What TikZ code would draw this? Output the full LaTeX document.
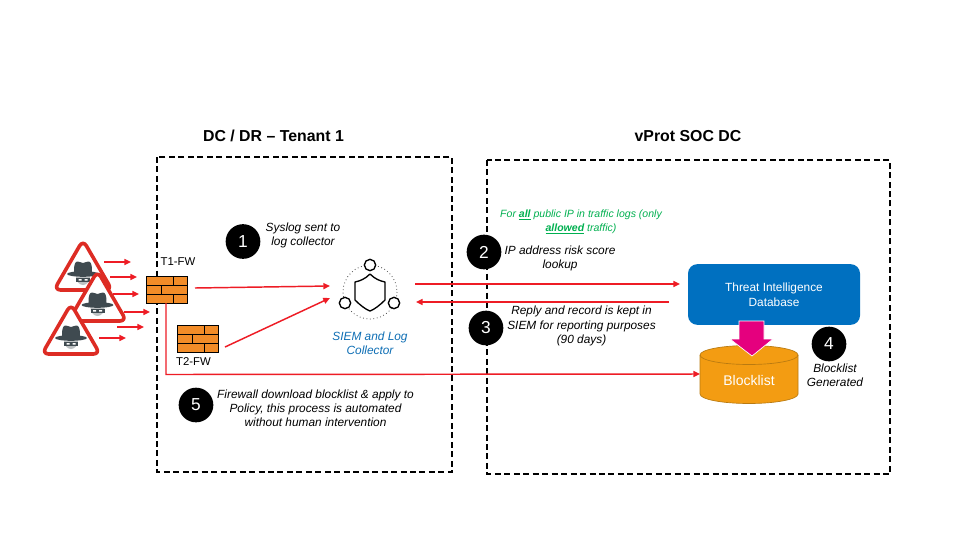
\documentclass[tikz,border=0pt]{standalone}
\usepackage{fontspec}
\setmainfont{Liberation Sans}
\usetikzlibrary{arrows.meta}
\definecolor{arrred}{HTML}{EE1C25}
\definecolor{fwor}{HTML}{F28C28}
\definecolor{dbblue}{HTML}{0070C0}
\definecolor{cylor}{HTML}{F39C12}
\definecolor{cyledge}{HTML}{B97A10}
\definecolor{hatgr}{HTML}{3F4A50}
\definecolor{trired}{HTML}{DD2C24}
\definecolor{siemblue}{HTML}{0F6FB5}
\definecolor{allowgreen}{HTML}{00B050}
\definecolor{pinkarr}{HTML}{E5007E}
\tikzset{
 x=0.75pt,y=-0.75pt,
 every node/.style={inner sep=0pt,outer sep=0pt},
 redline/.style={draw=arrred,line width=1.1pt},
 redarrow/.style={redline,-{Triangle[length=5pt,width=4.5pt]}},
 dashbox/.style={draw=black,line width=0.8pt,dash pattern=on 4.5pt off 2.6pt},
 numdot/.style={circle,fill=black,minimum size=26pt,text=white,font=\fontsize{13}{13}\selectfont},
 note/.style={align=center,font=\fontsize{8.9}{10.6}\selectfont\itshape},
 title/.style={font=\fontsize{11.9}{13}\selectfont\bfseries},
 fwlabel/.style={font=\fontsize{8.5}{9}\selectfont},
 hacker/.pic={
  \path[fill=white,draw=trired,line width=2.7pt,rounded corners=5pt,line join=round] (0,-28)--(29,22)--(-29,22)--cycle;
  \fill[hatgr] (-9,6) .. controls (-9,0) and (-9,-4) .. (-7,-6) .. controls (-5,-7.5) and (-2,-5) .. (0,-5) .. controls (2,-5) and (5,-7.5) .. (7,-6) .. controls (9,-4) and (9,0) .. (9,6) -- cycle;
  \fill[hatgr] (0,6) ellipse[x radius=16,y radius=2.8];
  \fill[hatgr!35] (-7,9) .. controls (-7,14) and (-3,17) .. (0,17) .. controls (3,17) and (7,14) .. (7,9) -- cycle;
  \fill[hatgr] (-7,10) rectangle (7,13.5);
  \fill[white] (-4.5,11.2) rectangle (-1.5,12.6) (1.5,11.2) rectangle (4.5,12.6);
 },
 firewall/.pic={
  \fill[fwor] (0,0) rectangle (41,27.5);
  \draw[black,line width=0.75pt] (0,0) rectangle (41,27.5);
  \draw[black,line width=0.6pt] (0,9.2)--(41,9.2) (0,18.4)--(41,18.4)
   (27,0)--(27,9.2) (15,9.2)--(15,18.4) (27,18.4)--(27,27.5);
 }
}
\begin{document}
\begin{tikzpicture}
\useasboundingbox (0,0) rectangle (960,540);
\fill[white] (0,0) rectangle (960,540);
% tenant boxes
\draw[dashbox] (157,157) rectangle (452,472);
\draw[dashbox] (487,160) rectangle (890,474);
\node[title] (t1) at (273.5,136) {DC / DR – Tenant 1};
\node[title] (t2) at (688,136) {vProt SOC DC};
% hackers
\pic at (83,268) {hacker};
\pic at (97.5,299) {hacker};
\pic at (71,332) {hacker};
% attack arrows
\coordinate (a1s) at (104,262); \coordinate (a1e) at (131,262);
\coordinate (a2s) at (110,277); \coordinate (a2e) at (137,277);
\coordinate (a3s) at (113,294); \coordinate (a3e) at (139,294);
\coordinate (a4s) at (124,312); \coordinate (a4e) at (150,312);
\coordinate (a5s) at (117,327); \coordinate (a5e) at (144,327);
\coordinate (a6s) at (99,338); \coordinate (a6e) at (126,338);
\foreach \n in {1,...,6} \draw[redarrow] (a\n s) -- (a\n e);
% firewalls
\pic at (146,276) {firewall};
\pic at (177,325) {firewall};
\coordinate (fw1r) at (195,288);
\coordinate (fw1b) at (166,303);
\coordinate (fw2r) at (225,347);
\node[fwlabel] (t1fw) at (178,262) {T1-FW};
\node[fwlabel] (t2fw) at (193.5,362) {T2-FW};
% SIEM icon
\draw[black!70,line width=0.6pt,dotted] (370,292) circle (27);
\draw[black,line width=1pt,line join=round] (370,274) .. controls (365,279) and (360,281) .. (355,282) -- (355,300) .. controls (360,305) and (365,309) .. (370,311) .. controls (375,309) and (380,305) .. (385,300) -- (385,282) .. controls (380,281) and (375,279) .. (370,274) -- cycle;
\node[circle,draw=black,line width=1pt,fill=white,minimum size=8.5pt] (s1) at (370,265) {};
\node[circle,draw=black,line width=1pt,fill=white,minimum size=8.5pt] (s2) at (345,303) {};
\node[circle,draw=black,line width=1pt,fill=white,minimum size=8.5pt] (s3) at (394,303) {};
\coordinate (siemIn1) at (330,286);
\coordinate (siemIn2) at (330,298);
\node[note,text=siemblue] (siemlabel) at (370,343) {SIEM and Log\\Collector};
% database
\node[fill=dbblue,rounded corners=7pt,minimum width=129pt,minimum height=45.5pt,text=white,align=center,font=\fontsize{8.9}{11}\selectfont] (db) at (774,294.5) {Threat Intelligence\\Database};
% cylinder
\path[fill=cylor,draw=cyledge,line width=0.5pt] (700,355) -- (700,394) arc[start angle=180,end angle=360,x radius=49,y radius=-9.5] -- (798,355) arc[start angle=0,end angle=180,x radius=49,y radius=-9.5] -- cycle;
\draw[cyledge,line width=0.5pt] (700,355) arc[start angle=180,end angle=360,x radius=49,y radius=-9.5];
\node[text=white,font=\fontsize{10.5}{12}\selectfont] (bl) at (749,380) {Blocklist};
\coordinate (cylL) at (700,374);
% pink arrow
\fill[pinkarr,draw=white,line width=0.5pt] (739,321) -- (764,321) -- (764,339) -- (773,339) -- (752,356) -- (730,339) -- (739,339) -- cycle;
% connectors
\draw[redarrow] (fw1r) -- (siemIn1);
\draw[redarrow] (fw2r) -- (siemIn2);
\draw[redarrow] (fw1b) -- (166,374.5) -- (cylL);
\coordinate (o1) at (415,284); \coordinate (o2) at (680,284);
\coordinate (b1) at (669,302); \coordinate (b2) at (416,302);
\draw[redarrow] (o1) -- (o2);
\draw[redarrow] (b1) -- (b2);
% number dots
\node[numdot] (n1) at (243,241.5) {1};
\node[numdot] (n2) at (484,252) {2};
\node[numdot] (n3) at (486,328) {3};
\node[numdot] (n4) at (829,344) {4};
\node[numdot] (n5) at (196,405) {5};
% notes
\node[note] (l1) at (303,235) {Syslog sent to\\log collector};
\node[note,text=allowgreen,font=\fontsize{7.9}{10}\selectfont\itshape] (lg) at (581,222) {For \textbf{\underline{all}} public IP in traffic logs (only\\\textbf{\underline{allowed}} traffic)};
\node[note] (l2) at (560,258) {IP address risk score\\lookup};
\node[note] (l3) at (581.5,326) {Reply and record is kept in\\SIEM for reporting purposes\\(90 days)};
\node[note] (l4) at (835,375) {Blocklist\\Generated};
\node[note] (l5) at (315.5,408) {Firewall download blocklist \& apply to\\Policy, this process is automated\\without human intervention};
\end{tikzpicture}
\end{document}
